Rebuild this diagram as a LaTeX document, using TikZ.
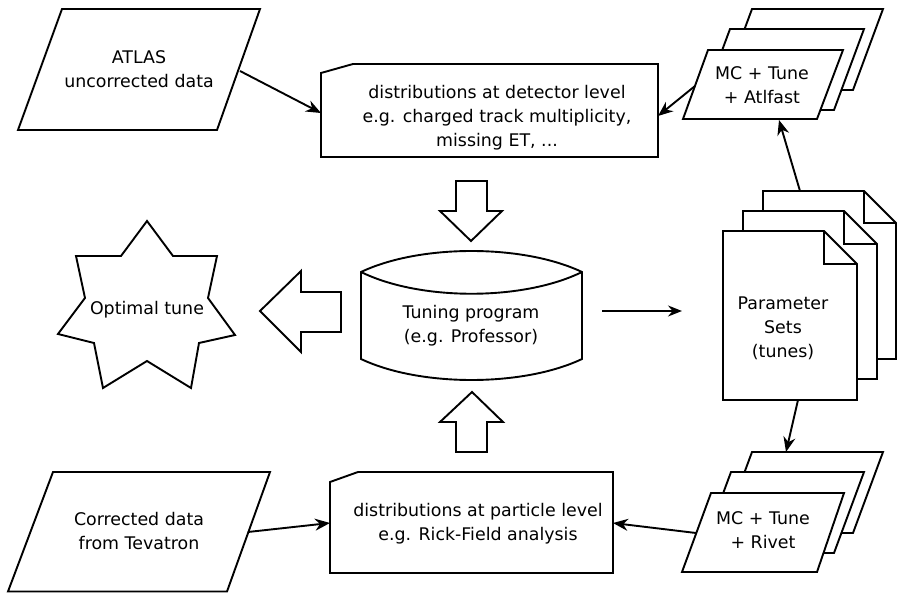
\documentclass[tikz,border=0pt]{standalone}
\usepackage{fontspec}
\setmainfont{DejaVu Sans}
\usetikzlibrary{arrows.meta}
\begin{document}
\begin{tikzpicture}[x=1pt,y=-1pt,
  shp/.style={draw=black, line width=1.9pt, fill=white, line join=miter},
  fold/.style={draw=black, line width=1.9pt},
  lbl/.style={align=center, font=\fontsize{17.4}{24}\selectfont, inner sep=0pt},
  conn/.style={line width=1.9pt, -{Stealth[length=15pt,width=12pt]}},
  thin conn/.style={line width=1.6pt, -{Stealth[length=14pt,width=11pt]}},
]
\useasboundingbox (0,0) rectangle (897,593);

% ---------- ATLAS uncorrected data ----------
\draw[shp] (62,9) -- (260,9) -- (217,130) -- (18,130) -- cycle;
\node[lbl] (atlas) at (139,69) {ATLAS\\uncorrected data};
\coordinate (atlasR) at (240,71);

% ---------- detector level box ----------
\draw[shp] (321,73) -- (353,64) -- (658,64) -- (658,157) -- (321,157) -- cycle;
\node[lbl] (det) at (497,118) {distributions at detector level\\e.g. charged track multiplicity,\\missing ET, ...};
\coordinate (detL) at (321,113);
\coordinate (detR) at (658,116);

% ---------- MC + Tune + Atlfast stack ----------
\draw[shp] (752,9) -- (883,9) -- (853,90) -- (722,90) -- cycle;
\draw[shp] (730,29) -- (864,29) -- (834,110) -- (700,110) -- cycle;
\draw[shp] (708,50) -- (843,50) -- (817,119) -- (683,119) -- cycle;
\node[lbl] (mca) at (762,85) {MC + Tune\\+ Atlfast};
\coordinate (mcaL) at (695,86);
\coordinate (mcaB) at (779,120);

% ---------- Parameter sets (documents) ----------
\draw[shp] (763,191) -- (864,191) -- (896,223) -- (896,359) -- (763,359) -- cycle;
\draw[fold] (864,191) -- (864,223) -- (896,223);
\draw[shp] (743,211) -- (844,211) -- (877,244) -- (877,379) -- (743,379) -- cycle;
\draw[fold] (844,211) -- (844,244) -- (877,244);
\draw[shp] (723,231) -- (824,231) -- (857,264) -- (857,400) -- (723,400) -- cycle;
\draw[fold] (824,231) -- (824,264) -- (857,264);
\node[lbl] (par) at (783,328) {Parameter\\Sets\\(tunes)};
\coordinate (parT) at (800,191);
\coordinate (parB) at (798,400);
\coordinate (parL) at (682,311);

% ---------- MC + Tune + Rivet stack ----------
\draw[shp] (752,452) -- (883,452) -- (853,533) -- (722,533) -- cycle;
\draw[shp] (731,472) -- (864,472) -- (834,553) -- (701,553) -- cycle;
\draw[shp] (711,493) -- (844,493) -- (817,572) -- (682,572) -- cycle;
\node[lbl] (mcr) at (763,530) {MC + Tune\\+ Rivet};
\coordinate (mcrT) at (786,452);
\coordinate (mcrL) at (696,533);

% ---------- particle level box ----------
\draw[shp] (330,482) -- (358,472) -- (613,472) -- (613,573) -- (330,573) -- cycle;
\node[lbl] (part) at (478,524) {distributions at particle level\\e.g. Rick-Field analysis};
\coordinate (partL) at (330,523);
\coordinate (partR) at (613,523);

% ---------- Corrected data from Tevatron ----------
\draw[shp] (53,472) -- (270,472) -- (227,591.5) -- (8,591.5) -- cycle;
\node[lbl] (corr) at (139,531) {Corrected data\\from Tevatron};
\coordinate (corrR) at (248,532);

% ---------- Tuning program (cylinder) ----------
\draw[shp] (361,272) .. controls (420,244) and (523,244) .. (582,272)
  -- (582,359) .. controls (523,387) and (420,387) .. (361,359) -- cycle;
\draw[fold] (361,272) .. controls (420,301) and (523,301) .. (582,272);
\node[lbl] (tun) at (471,326) {Tuning program\\(e.g. Professor)};
\coordinate (tunR) at (602,311);

% ---------- Optimal tune (star) ----------
\draw[shp] (147,221) -- (173,256) -- (217,256) -- (208,298) -- (235,335) -- (199,343)
  -- (191,388) -- (147,361) -- (103,388) -- (94,343) -- (58,334) -- (85,298)
  -- (76,256) -- (121,256) -- cycle;
\node[lbl] (opt) at (147,310) {Optimal tune};

% ---------- block arrows ----------
\draw[shp] (456,181) -- (487,181) -- (487,211) -- (502,211) -- (471,241) -- (440,211) -- (456,211) -- cycle;
\draw[shp] (456,452) -- (487,452) -- (487,422) -- (503,422) -- (472,392) -- (440,422) -- (456,422) -- cycle;
\draw[shp] (341,292) -- (301,292) -- (301,271) -- (260,311) -- (301,352) -- (301,332) -- (341,332) -- cycle;

% ---------- connectors ----------
\draw[conn] (atlasR) -- (detL);
\draw[conn] (mcaL) -- (detR);
\draw[conn] (parT) -- (mcaB);
\draw[conn] (parB) -- (mcrT);
\draw[conn] (mcrL) -- (partR);
\draw[conn] (corrR) -- (partL);
\draw[thin conn] (tunR) -- (parL);
\end{tikzpicture}
\end{document}
